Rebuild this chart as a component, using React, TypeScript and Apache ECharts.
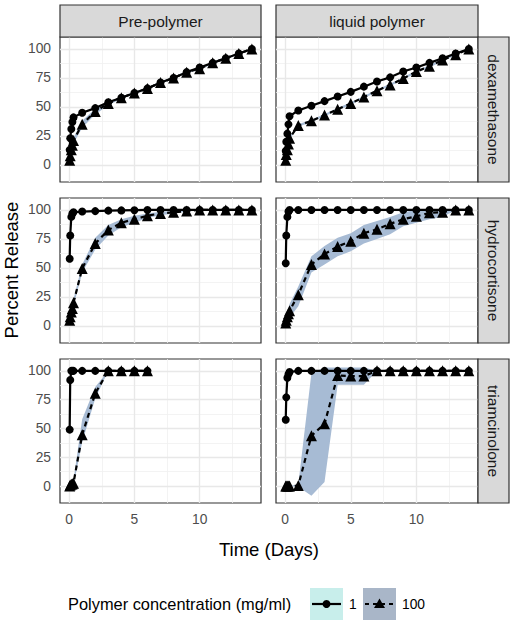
import React, { useEffect, useRef } from 'react';
import * as echarts from 'echarts';

// ---------- data ----------
const TIMES = [0.042, 0.083, 0.167, 0.25, 0.333, 1, 2, 3, 4, 5, 6, 7, 8, 9, 10, 11, 12, 13, 14];
const TIMES_SHORT = [0.042, 0.083, 0.167, 0.25, 0.333, 1, 2, 3, 4, 5, 6];

const COLUMNS = ['Pre-polymer', 'liquid polymer'];
const ROWS = ['dexamethasone', 'hydrocortisone', 'triamcinolone'];
const X_TICKS = [0, 5, 10];
const X_MINOR = [2.5, 7.5, 12.5];
const Y_TICKS = [0, 25, 50, 75, 100];
const Y_MINOR = [12.5, 37.5, 62.5, 87.5];
const LEGEND_TITLE = 'Polymer concentration (mg/ml)';
const LEGEND_LEVELS = ['1', '100'];
const X_TITLE = 'Time (Days)';
const Y_TITLE = 'Percent Release';

// dexamethasone, Pre-polymer
const dexPre1 = [13, 23, 31, 37, 41, 45, 49, 54, 58, 62, 66, 71, 75, 80, 84, 88, 92, 96, 100];
const dexPre100 = [4, 8, 13, 17, 21, 35, 46, 53, 58, 62, 66, 71, 75, 80, 83, 88, 92, 96, 100];
const dexPre100Lo = [3, 6.5, 11, 15, 18.5, 32, 43.5, 51.5, 57, 61, 65, 70, 74, 79, 82, 87, 91, 95.5, 100];
const dexPre100Hi = [5, 9.5, 15, 19, 23.5, 38, 48.5, 54.5, 59, 63, 67, 72, 76, 81, 84, 89, 93, 96.5, 100];

// dexamethasone, liquid polymer
const dexLiq1 = [12, 20, 27, 35, 42, 47, 51, 55, 59, 63, 67.5, 72, 75.5, 80.5, 84, 88, 92, 96, 100];
const dexLiq100 = [4, 9, 13, 18, 23, 34, 38, 43, 48, 53, 58.5, 64, 69, 74.5, 80.5, 85, 90.5, 95, 100];
const dexLiq100Lo = [3.5, 8, 12, 17, 22, 33, 37, 42, 47, 52, 57.5, 63, 68, 73.5, 79.5, 84, 89.5, 94.5, 100];
const dexLiq100Hi = [4.5, 10, 14, 19, 24, 35, 39, 44, 49, 54, 59.5, 65, 70, 75.5, 81.5, 86, 91.5, 95.5, 100];

// hydrocortisone, Pre-polymer
const hydPre1 = [58, 78, 94, 97, 98, 98.6, 99, 99.4, 99.6, 99.8, 100, 100, 100, 100, 100, 100, 100, 100, 100];
const hydPre100 = [5, 8, 12, 15, 20, 49.5, 71, 82.7, 89, 92, 95, 97, 98, 99, 100, 100, 100, 100, 100];
const hydPre100Lo = [4, 6.5, 10, 12.5, 17, 46, 66, 78, 85, 89, 93, 95.5, 97, 98.5, 100, 100, 100, 100, 100];
const hydPre100Hi = [6, 9.5, 14, 17.5, 23, 53, 76, 87, 92, 95, 97, 98.5, 99, 99.5, 100, 100, 100, 100, 100];

// hydrocortisone, liquid polymer
const hydLiq1 = [54, 78, 94, 98.6, 100, 100, 100, 100, 100, 100, 100, 100, 100, 100, 100, 100, 100, 100, 100];
const hydLiq100 = [2.5, 5, 8, 10.5, 13, 27, 53, 62, 68.5, 73, 80, 83.3, 88, 92, 94.5, 97.5, 98, 100, 100];
const hydLiq100Lo = [1, 3, 5, 6, 7, 17, 46, 53, 60, 64.5, 71, 75, 79, 86, 89, 92, 94, 100, 100];
const hydLiq100Hi = [4, 7, 11, 15, 19, 34, 60, 69, 76, 80, 87, 90.5, 94, 98, 100, 100, 100, 100, 100];

// triamcinolone, Pre-polymer
const triPre1 = [49, 92, 100, 100, 100, 100, 100, 100, 100, 100, 100];
const triPre100 = [0, 1, 1.5, 2, 2.5, 44.5, 80.5, 100, 100, 100, 100];
const triPre100Lo = [0, 0, 0, 0, 0.5, 38, 76, 100, 100, 100, 100];
const triPre100Hi = [0.5, 2, 3, 4, 5, 58, 86, 100, 100, 100, 100];

// triamcinolone, liquid polymer
const triLiq1 = [57.5, 77, 94, 97, 99, 100, 100, 100, 100, 100, 100, 100, 100, 100, 100, 100, 100, 100, 100];
const triLiq1Lo = [57.5, 77, 90, 93, 98, 100, 100, 100, 100, 100, 100, 100, 100, 100, 100, 100, 100, 100, 100];
const triLiq1Hi = [57.5, 77, 98, 101, 100, 100, 100, 100, 100, 100, 100, 100, 100, 100, 100, 100, 100, 100, 100];
const triLiq100 = [0, 0, 0, 0, 0, 0.5, 43.7, 54, 96, 95.5, 95.5, 100, 100, 100, 100, 100, 100, 100, 100];
const triLiq100Lo = [0, 0, 0, 0, 0, -0.5, -8.5, 3.5, 88, 88, 88, 100, 100, 100, 100, 100, 100, 100, 100];
const triLiq100Hi = [0, 0, 0, 0, 0, 1.5, 98, 103, 103, 103, 103, 100, 100, 100, 100, 100, 100, 100, 100];

type Panel = {
  t: number[];
  c1: number[];
  c100: number[];
  lo100: number[];
  hi100: number[];
  lo1?: number[];
  hi1?: number[];
};

const PANELS: Panel[][] = [
  [
    { t: TIMES, c1: dexPre1, c100: dexPre100, lo100: dexPre100Lo, hi100: dexPre100Hi },
    { t: TIMES, c1: dexLiq1, c100: dexLiq100, lo100: dexLiq100Lo, hi100: dexLiq100Hi },
  ],
  [
    { t: TIMES, c1: hydPre1, c100: hydPre100, lo100: hydPre100Lo, hi100: hydPre100Hi },
    { t: TIMES, c1: hydLiq1, c100: hydLiq100, lo100: hydLiq100Lo, hi100: hydLiq100Hi },
  ],
  [
    { t: TIMES_SHORT, c1: triPre1, c100: triPre100, lo100: triPre100Lo, hi100: triPre100Hi },
    { t: TIMES, c1: triLiq1, c100: triLiq100, lo100: triLiq100Lo, hi100: triLiq100Hi, lo1: triLiq1Lo, hi1: triLiq1Hi },
  ],
];

// ---------- layout / style ----------
const FONT = 'Liberation Sans, Arial, Helvetica, sans-serif';
const COL_LEFT = [60, 276];
const COL_WIDTH = [201, 202];
const ROW_TOP = [37, 198, 359];
const ROW_HEIGHT = [145, 145, 144];
const STRIP_TOP = 5;
const STRIP_RIGHT_W = 31;
const X_MIN = -0.7;
const X_MAX = 14.7;
const Y_MIN = -14.7;
const Y_MAX = 110.3;
const RIBBON_100 = '#a7bbd4';
const RIBBON_1 = '#bfe9e6';
const KEY_1 = '#c8eeeb';
const KEY_100 = '#a9b6c8';
const TICK_FONT = 13.8;
const STRIP_FONT = 15.5;
const TITLE_FONT = 18.5;

function ribbonSeries(idx: number, t: number[], lo: number[], hi: number[], color: string, z: number) {
  const rows = t.map((x, i) => [x, lo[i], hi[i]]);
  return {
    type: 'custom',
    xAxisIndex: idx,
    yAxisIndex: idx,
    z,
    silent: true,
    data: rows,
    encode: { x: 0, y: [1, 2] },
    renderItem: (params: any, api: any) => {
      if (params.dataIndex !== 0) return { type: 'group', children: [] };
      const upper = rows.map((r) => api.coord([r[0], r[2]]));
      const lower = rows.map((r) => api.coord([r[0], r[1]])).reverse();
      return {
        type: 'polygon',
        shape: { points: upper.concat(lower) },
        style: { fill: color, stroke: null },
      };
    },
  };
}

function buildOption() {
  const grids: any[] = [];
  const xAxes: any[] = [];
  const yAxes: any[] = [];
  const series: any[] = [];
  const graphics: any[] = [];

  const major = { color: '#e8e8e8', width: 1.4, type: 'solid' };
  const minor = { color: '#f0f0f0', width: 0.8, type: 'solid' };

  for (let r = 0; r < 3; r++) {
    for (let c = 0; c < 2; c++) {
      const idx = r * 2 + c;
      const p = PANELS[r][c];
      grids.push({
        left: COL_LEFT[c],
        top: ROW_TOP[r],
        width: COL_WIDTH[c],
        height: ROW_HEIGHT[r],
        show: true,
        backgroundColor: '#ffffff',
        borderColor: '#333333',
        borderWidth: 1.2,
        containLabel: false,
      });
      xAxes.push({
        type: 'value',
        gridIndex: idx,
        min: X_MIN,
        max: X_MAX,
        splitLine: { show: false },
        axisLine: { show: false },
        axisTick: { show: r === 2, customValues: X_TICKS, length: 4, lineStyle: { color: '#333333', width: 1 } },
        axisLabel: { show: r === 2, customValues: X_TICKS, color: '#4d4d4d', fontSize: TICK_FONT, margin: 9, fontFamily: FONT },
      });
      yAxes.push({
        type: 'value',
        gridIndex: idx,
        min: Y_MIN,
        max: Y_MAX,
        splitLine: { show: false },
        axisLine: { show: false },
        axisTick: { show: c === 0, customValues: Y_TICKS, length: 4, lineStyle: { color: '#333333', width: 1 } },
        axisLabel: { show: c === 0, customValues: Y_TICKS, color: '#4d4d4d', fontSize: TICK_FONT, margin: 9, fontFamily: FONT },
      });

      // grid lines
      series.push({
        type: 'line',
        xAxisIndex: idx,
        yAxisIndex: idx,
        data: [],
        z: 1,
        silent: true,
        markLine: {
          z: 1,
          silent: true,
          symbol: ['none', 'none'],
          label: { show: false },
          lineStyle: { type: 'solid' },
          emphasis: { disabled: true },
          data: [
            ...X_MINOR.map((v) => ({ xAxis: v, lineStyle: minor })),
            ...Y_MINOR.map((v) => ({ yAxis: v, lineStyle: minor })),
            ...X_TICKS.map((v) => ({ xAxis: v, lineStyle: major })),
            ...Y_TICKS.map((v) => ({ yAxis: v, lineStyle: major })),
          ],
        },
      });

      if (p.lo1 && p.hi1) series.push(ribbonSeries(idx, p.t, p.lo1, p.hi1, RIBBON_1, 6));
      series.push(ribbonSeries(idx, p.t, p.lo100, p.hi100, RIBBON_100, 6));

      series.push({
        type: 'line',
        name: LEGEND_LEVELS[0],
        xAxisIndex: idx,
        yAxisIndex: idx,
        data: p.t.map((x, i) => [x, p.c1[i]]),
        symbol: 'circle',
        symbolSize: 8,
        showAllSymbol: true,
        itemStyle: { color: '#000000' },
        lineStyle: { color: '#000000', width: 2.2 },
        z: 7,
        silent: true,
      });
      series.push({
        type: 'line',
        name: LEGEND_LEVELS[1],
        xAxisIndex: idx,
        yAxisIndex: idx,
        data: p.t.map((x, i) => [x, p.c100[i]]),
        symbol: 'triangle',
        symbolSize: 11,
        showAllSymbol: true,
        itemStyle: { color: '#000000' },
        lineStyle: { color: '#000000', width: 2.2, type: [5, 4] },
        z: 8,
        silent: true,
      });
    }
  }

  // top strips
  for (let c = 0; c < 2; c++) {
    graphics.push({
      type: 'rect',
      shape: { x: COL_LEFT[c], y: STRIP_TOP, width: COL_WIDTH[c], height: ROW_TOP[0] - STRIP_TOP },
      style: { fill: '#d9d9d9', stroke: '#333333', lineWidth: 1.2 },
      z: 10,
    });
    graphics.push({
      type: 'text',
      x: COL_LEFT[c] + COL_WIDTH[c] / 2,
      y: (STRIP_TOP + ROW_TOP[0]) / 2,
      style: { text: COLUMNS[c], fill: '#1a1a1a', fontSize: STRIP_FONT, fontFamily: FONT, align: 'center', verticalAlign: 'middle' },
      z: 11,
    });
  }
  // right strips
  const rx = COL_LEFT[1] + COL_WIDTH[1];
  for (let r = 0; r < 3; r++) {
    graphics.push({
      type: 'rect',
      shape: { x: rx, y: ROW_TOP[r], width: STRIP_RIGHT_W, height: ROW_HEIGHT[r] },
      style: { fill: '#d9d9d9', stroke: '#333333', lineWidth: 1.2 },
      z: 10,
    });
    graphics.push({
      type: 'text',
      x: rx + STRIP_RIGHT_W / 2,
      y: ROW_TOP[r] + ROW_HEIGHT[r] / 2,
      rotation: -Math.PI / 2,
      style: { text: ROWS[r], fill: '#1a1a1a', fontSize: STRIP_FONT, fontFamily: FONT, align: 'center', verticalAlign: 'middle' },
      z: 11,
    });
  }

  // axis titles
  graphics.push({
    type: 'text',
    x: 11,
    y: (ROW_TOP[0] + ROW_TOP[2] + ROW_HEIGHT[2]) / 2,
    rotation: Math.PI / 2,
    style: { text: Y_TITLE, fill: '#000000', fontSize: TITLE_FONT, fontFamily: FONT, align: 'center', verticalAlign: 'middle' },
  });
  graphics.push({
    type: 'text',
    x: (COL_LEFT[0] + rx) / 2,
    y: 549,
    style: { text: X_TITLE, fill: '#000000', fontSize: TITLE_FONT, fontFamily: FONT, align: 'center', verticalAlign: 'middle' },
  });

  // legend
  const ly = 604;
  graphics.push({
    type: 'text',
    x: 68,
    y: ly,
    style: { text: LEGEND_TITLE, fill: '#000000', fontSize: 16.4, fontFamily: FONT, align: 'left', verticalAlign: 'middle' },
  });
  const boxes = [310, 363];
  const keyFill = [KEY_1, KEY_100];
  for (let k = 0; k < 2; k++) {
    const bx = boxes[k];
    graphics.push({
      type: 'rect',
      shape: { x: bx, y: 588, width: 33, height: 32 },
      style: { fill: keyFill[k], stroke: null },
    });
    graphics.push({
      type: 'line',
      shape: { x1: bx + 2, y1: ly, x2: bx + 31, y2: ly },
      style: { stroke: '#000000', lineWidth: 2.2, lineDash: k === 0 ? null : [4, 4] },
    });
    const cx = bx + 16.5;
    if (k === 0) {
      graphics.push({ type: 'circle', shape: { cx, cy: ly, r: 4 }, style: { fill: '#000000' } });
    } else {
      graphics.push({
        type: 'polygon',
        shape: { points: [[cx, ly - 5.5], [cx + 5.5, ly + 4], [cx - 5.5, ly + 4]] },
        style: { fill: '#000000' },
      });
    }
    graphics.push({
      type: 'text',
      x: bx + 39,
      y: ly,
      style: { text: LEGEND_LEVELS[k], fill: '#000000', fontSize: 13.8, fontFamily: FONT, align: 'left', verticalAlign: 'middle' },
    });
  }

  return {
    animation: false,
    backgroundColor: '#ffffff',
    textStyle: { fontFamily: FONT },
    grid: grids,
    xAxis: xAxes,
    yAxis: yAxes,
    series,
    graphic: graphics,
  };
}

export default function App() {
  const ref = useRef<HTMLDivElement>(null);
  useEffect(() => {
    document.body.style.margin = '0';
    if (!ref.current) return;
    const chart = echarts.init(ref.current, null, { renderer: 'svg' });
    chart.setOption(buildOption() as any);
    return () => chart.dispose();
  }, []);
  return <div ref={ref} style={{ width: 514, height: 624 }} />;
}
